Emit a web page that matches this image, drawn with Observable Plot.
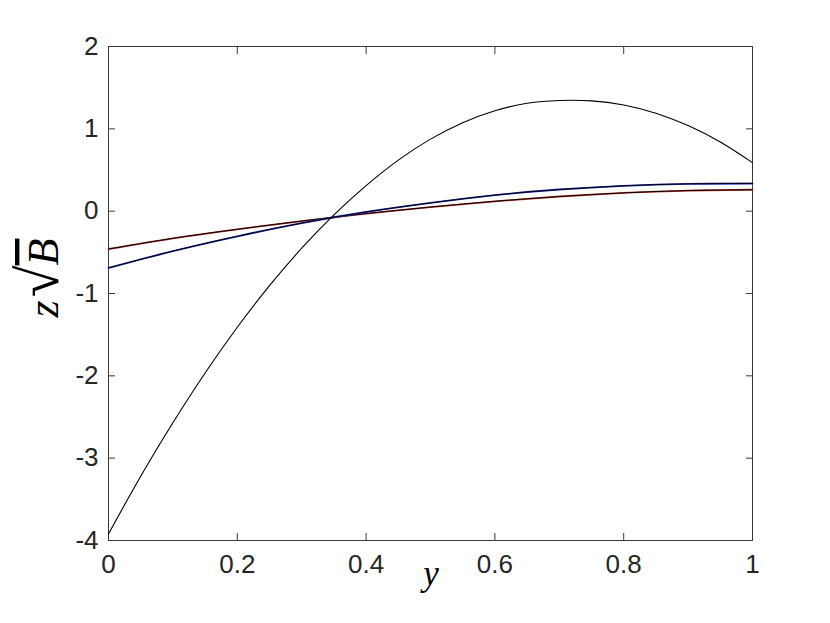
<!DOCTYPE html>
<html><head><meta charset="utf-8">
<script src="https://cdn.jsdelivr.net/npm/d3@7"></script>
<script src="https://cdn.jsdelivr.net/npm/@observablehq/plot@0.6"></script>
<style>body{margin:0;background:#fff}</style>
</head><body><div id="chart"></div>
<script>
// Black curve
const xMain = [0,0.05,0.1,0.15,0.2,0.25,0.3,0.35,0.4,0.45,0.5,0.55,0.6,0.65,0.7,0.75,0.8,0.85,0.9,0.95,1];
const zMain = [-3.92,-3.22,-2.57,-1.965,-1.41,-0.905,-0.45,-0.045,0.31,0.62,0.875,1.075,1.22,1.31,1.345,1.34,1.29,1.19,1.04,0.84,0.59];
// Near-linear curves
const xLin = [0,0.1,0.2,0.3,0.4,0.5,0.6,0.7,0.8,0.9,1];
const zBlue = [-0.69,-0.485,-0.305,-0.145,-0.01,0.10,0.195,0.263,0.308,0.332,0.336];
const zRed = [-0.46,-0.33,-0.22,-0.12,-0.03,0.05,0.12,0.178,0.222,0.25,0.26];
// Ticks
const xTicks = [0,0.2,0.4,0.6,0.8,1];
const xTickLabels = ["0","0.2","0.4","0.6","0.8","1"];
const yTicks = [-4,-3,-2,-1,0,1,2];
const yTickLabels = ["-4","-3","-2","-1","0","1","2"];

const mainData = xMain.map((x,i)=>({x, z:zMain[i]}));
const blueData = xLin.map((x,i)=>({x, z:zBlue[i]}));
const redData = xLin.map((x,i)=>({x, z:zRed[i]}));

const axisColor = "#262626";
const tickStroke = "#3a3a3a";
const fmtX = d => xTickLabels[xTicks.indexOf(d)];
const fmtY = d => yTickLabels[yTicks.indexOf(d)];

const plot = Plot.plot({
  width: 830, height: 623,
  marginLeft: 108, marginRight: 78, marginTop: 46, marginBottom: 83,
  style: {fontFamily: "'Liberation Sans', Arial, Helvetica, sans-serif", background: "#fff", color: axisColor},
  x: {domain: [0,1]},
  y: {domain: [-4,2]},
  marks: [
    Plot.frame({stroke: tickStroke, strokeWidth: 1}),
    // inward ticks
    Plot.axisX(xTicks, {anchor: "bottom", tickSize: 7, insetBottom: 7, text: null, label: null, stroke: tickStroke}),
    Plot.axisX(xTicks, {anchor: "top", tickSize: 7, insetTop: 7, text: null, label: null, stroke: tickStroke}),
    Plot.axisY(yTicks, {anchor: "left", tickSize: 7, insetLeft: 7, text: null, label: null, stroke: tickStroke}),
    Plot.axisY(yTicks, {anchor: "right", tickSize: 7, insetRight: 7, text: null, label: null, stroke: tickStroke}),
    // tick labels
    Plot.axisX(xTicks, {anchor: "bottom", tickSize: 0, tickPadding: 14, fontSize: 26, tickFormat: fmtX, label: null, fill: axisColor}),
    Plot.axisY(yTicks, {anchor: "left", tickSize: 0, tickPadding: 10, fontSize: 26, tickFormat: fmtY, label: null, fill: axisColor}),
    // curves
    Plot.line(redData, {x: "x", y: "z", stroke: "#c0392b", strokeWidth: 1.8, curve: "natural"}),
    Plot.line(redData, {x: "x", y: "z", stroke: "#000", strokeWidth: 1, curve: "natural"}),
    Plot.line(blueData, {x: "x", y: "z", stroke: "#2030c0", strokeWidth: 1.8, curve: "natural"}),
    Plot.line(blueData, {x: "x", y: "z", stroke: "#000", strokeWidth: 1, curve: "natural"}),
    Plot.line(mainData, {x: "x", y: "z", stroke: "#000", strokeWidth: 1.1, curve: "natural"})
  ]
});
document.getElementById("chart").appendChild(plot);

// Axis titles (math-style italic)
const svg = d3.select(plot);
const serif = "'Liberation Serif', 'DejaVu Serif', serif";
svg.append("text")
  .attr("x", 431).attr("y", 585)
  .attr("text-anchor", "middle")
  .style("font-family", serif).style("font-style", "italic").style("font-size", "35px")
  .attr("fill", "#000")
  .text("y");
const yl = svg.append("text")
  .attr("transform", "translate(58,278) rotate(-90)")
  .attr("text-anchor", "middle")
  .style("font-family", serif).style("font-size", "44px")
  .attr("fill", "#000");
yl.append("tspan").style("font-style", "italic").text("z");
yl.append("tspan").attr("dx", 3).style("font-size", "58px").text("√");
yl.append("tspan").style("font-style", "italic").style("text-decoration", "overline").text("B");
</script>
</body></html>
